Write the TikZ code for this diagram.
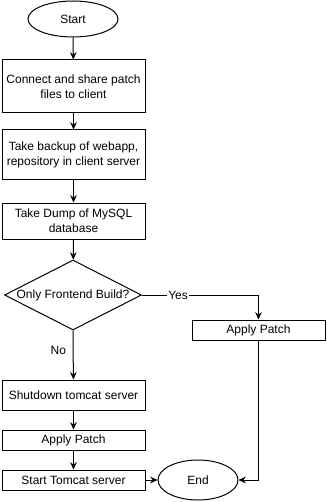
\documentclass[tikz,border=0pt]{standalone}
\usepackage{fontspec}
\setmainfont{Liberation Sans}
\usepackage{xcolor}
\usetikzlibrary{arrows.meta,shapes.geometric}
\definecolor{Ink}{HTML}{000000}

\begin{document}
\begin{tikzpicture}[x=0.75pt,y=-0.75pt,>={Stealth[length=5.5pt,width=5pt]},
  every node/.style={font=\fontsize{9pt}{11pt}\selectfont,text=Ink},
  stepbox/.style={draw=Ink,line width=0.75pt,rectangle,inner sep=0pt,
    minimum width=107.25pt,align=center},
  terminal/.style={draw=Ink,line width=0.75pt,ellipse,inner sep=0pt},
  decision/.style={draw=Ink,line width=0.75pt,diamond,inner sep=0pt,
    minimum width=102.75pt,minimum height=52.5pt},
  flow/.style={draw=Ink,line width=0.75pt,->},
  tag/.style={fill=white,inner sep=1pt}]
  \useasboundingbox (0,0) rectangle (326,502);
  % main column
  \node[terminal,minimum width=67.5pt,minimum height=27pt] (start) at (73,19) {Start};
  \node[stepbox,minimum height=39.75pt] (share) at (73.5,86.5) {Connect and share patch\\files to client};
  \node[stepbox,minimum height=37.5pt] (backup) at (73.5,155) {Take backup of webapp,\\repository in client server};
  \node[stepbox,minimum height=27pt] (dump) at (73.5,221) {Take Dump of MySQL\\database};
  \node[decision,label=center:{Only Frontend Build?}] (frontend) at (73,295) {};
  \node[stepbox,minimum height=22.5pt] (shutdown) at (73.5,395) {Shutdown tomcat server};
  \node[stepbox,minimum height=15pt] (patchfull) at (73.5,440) {Apply Patch};
  \node[stepbox,minimum height=15pt] (starttomcat) at (73.5,480) {Start Tomcat server};
  % right branch
  \node[stepbox,minimum width=99.75pt,minimum height=15pt] (patchfront) at (258.5,330) {Apply Patch};
  \node[terminal,minimum width=60pt,minimum height=30pt] (end) at (198,480) {End};
  % connectors
  \draw[flow] (start) -- (share);
  \draw[flow] (share) -- (backup);
  \draw[flow] (backup) -- (dump);
  \draw[flow] (dump) -- (frontend);
  \draw[flow] (frontend.east) -| node[tag,pos=0.155] {Yes} (patchfront.north);
  \draw[flow] (frontend.south) -- node[pos=0.4,left=4pt,inner sep=1pt] {No} (shutdown);
  \draw[flow] (shutdown) -- (patchfull);
  \draw[flow] (patchfull) -- (starttomcat);
  \draw[flow] (starttomcat) -- (end);
  \draw[flow] (patchfront.south) |- (end.east);
\end{tikzpicture}
\end{document}
